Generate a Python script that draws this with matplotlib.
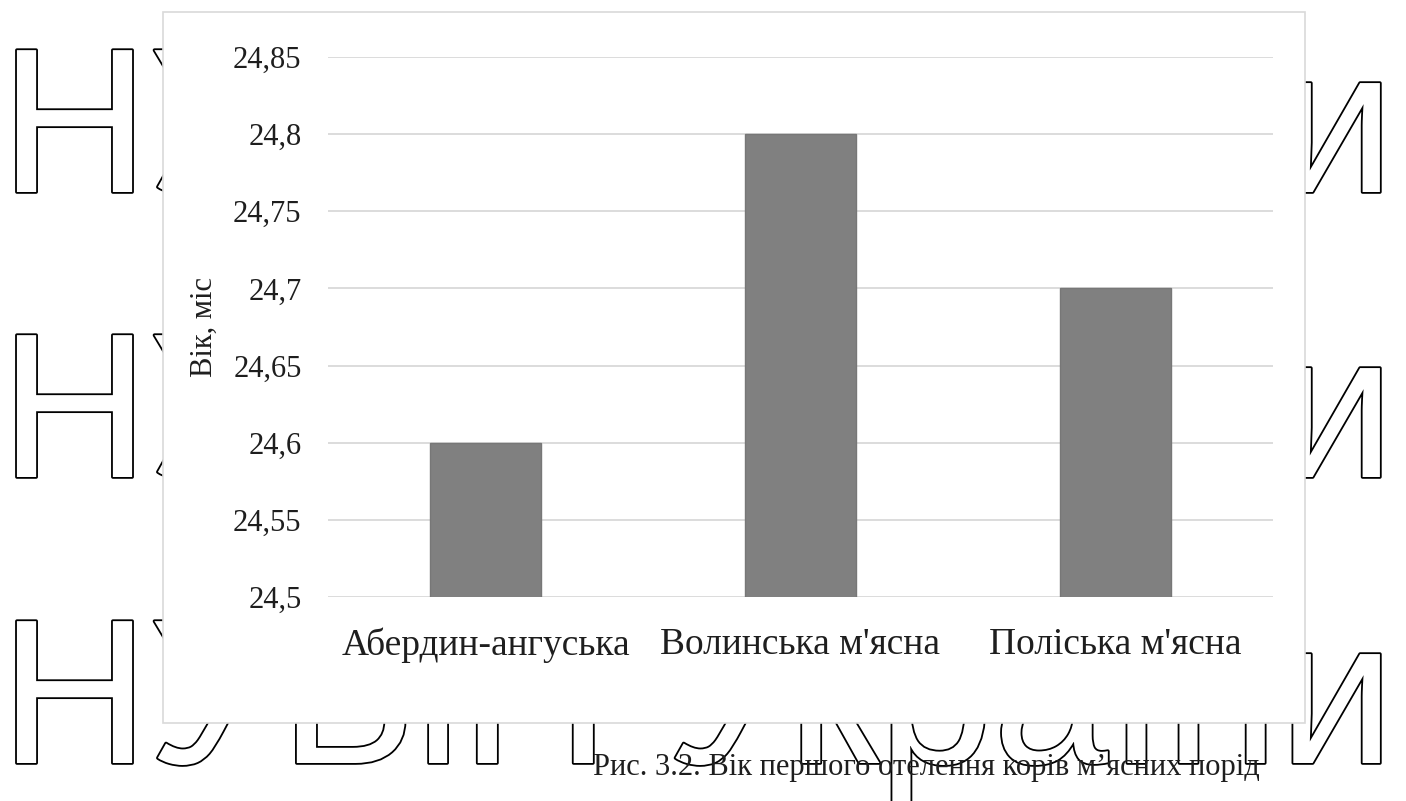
import matplotlib
matplotlib.use("Agg")
import matplotlib.pyplot as plt
import matplotlib.patheffects as pe
from matplotlib.patches import Rectangle
from matplotlib.ticker import FuncFormatter

breeds = ["Абердин-ангуська", "Волинська м'ясна", "Поліська м'ясна"]
age_first_calving = [24.6, 24.8, 24.7]
y_ticks = [24.5, 24.55, 24.6, 24.65, 24.7, 24.75, 24.8, 24.85]
y_label = "Вік, міс"
caption = "Рис. 3.2. Вік першого отелення корів м’ясних порід"
watermark = "НУБіП України"

W, H = 1406, 801
TEXT = "#1e1e1e"
GRID = "#d9d9d9"

plt.rcParams.update(
    {
        "font.family": ["Liberation Serif", "DejaVu Serif"],
        "axes.unicode_minus": False,
    }
)


def fx(x):
    return x / W


def fy(y):
    return 1 - y / H


fig = plt.figure(figsize=(W / 100, H / 100), dpi=100)
fig.patch.set_facecolor("white")

# outlined watermark, three rows behind the chart
renderer = fig.canvas.get_renderer()
for base in (192, 477, 763):
    t = fig.text(
        fx(0), fy(base), watermark,
        fontsize=150, family=["Liberation Sans", "DejaVu Sans"],
        color="white", ha="left", va="baseline", zorder=-5,
        path_effects=[pe.withStroke(linewidth=2.6, foreground="black")],
    )
    bb = t.get_window_extent(renderer)
    t.set_fontsize(150 * 1395 / bb.width)

# white chart card
card = Rectangle(
    (fx(163), fy(723)), (1305 - 163) / W, (723 - 12) / H,
    transform=fig.transFigure, facecolor="white", edgecolor=GRID,
    linewidth=1.2, zorder=-2,
)
fig.add_artist(card)

ax = fig.add_axes([fx(328), fy(597), (1273 - 328) / W, (597 - 57) / H])
ax.patch.set_facecolor("none")

x = range(len(breeds))
ax.bar(x, age_first_calving, width=0.355, color="#808080",
       edgecolor="#777777", linewidth=1, zorder=2)

ax.set_xlim(-0.5, len(breeds) - 0.5)
ax.set_ylim(y_ticks[0], y_ticks[-1])
ax.set_yticks(y_ticks)
ax.yaxis.set_major_formatter(FuncFormatter(lambda v, _: f"{v:g}".replace(".", ",")))
ax.set_xticks(list(x))
ax.set_xticklabels(breeds)

ax.yaxis.grid(True, color=GRID, linewidth=1.3)
ax.set_axisbelow(True)
for s in ax.spines.values():
    s.set_visible(False)

ax.tick_params(axis="y", length=0, labelsize=22, pad=19, labelcolor=TEXT)
ax.tick_params(axis="x", length=0, labelsize=27, pad=22, labelcolor=TEXT)

ax.set_ylabel(y_label, fontsize=22, color=TEXT)
ax.yaxis.set_label_coords(-0.116, 0.5)

fig.text(fx(926), fy(767), caption, ha="center", va="center",
         fontsize=22, color=TEXT, zorder=3)

fig.savefig("out.png", dpi=100, facecolor="white")
